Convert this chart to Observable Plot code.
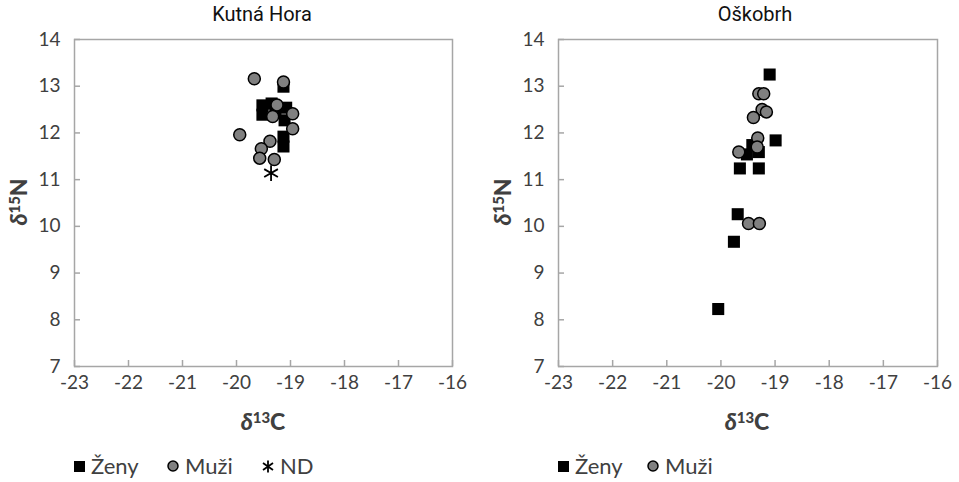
<!DOCTYPE html>
<html>
<head>
<meta charset="utf-8">
<script src="https://cdn.jsdelivr.net/npm/d3@7"></script>
<script src="https://cdn.jsdelivr.net/npm/@observablehq/plot@0.6"></script>
<style>
  html, body { margin: 0; padding: 0; background: #fff; }
  #root { position: relative; width: 959px; height: 482px; overflow: hidden; font-family: Lato, "Open Sans", sans-serif; }
  .panel { position: absolute; top: 0; width: 479px; height: 482px; }
  .title { position: absolute; top: 0; height: 26px; line-height: 28px; font-family: Roboto, sans-serif; font-size: 20px; color: #111; white-space: nowrap; transform: translateX(-50%); }
  .plotbox { position: absolute; top: 26px; left: 0; }
  .ylab, .xlab { position: absolute; font-family: Lato, sans-serif; font-weight: 900; color: #404040; white-space: nowrap; line-height: 1; }
  .ylab { font-size: 23px; transform: translate(-50%, -50%) rotate(-90deg); }
  .xlab { font-size: 23px; transform: translate(-50%, -50%); }
  .ylab i, .xlab i { font-style: italic; }
  .ylab sup, .xlab sup { font-size: 0.65em; vertical-align: 0.45em; line-height: 0; }
  .leg { position: absolute; top: 466px; transform: translateY(-50%); font-family: Lato, sans-serif; font-size: 22px; color: #404040; white-space: nowrap; line-height: 1; display: flex; align-items: center; }
  .leg svg { display: block; }
</style>
</head>
<body>
<div id="root"></div>
<script>
// ---- data ----
const xTicks = [-23, -22, -21, -20, -19, -18, -17, -16];
const yTicks = [7, 8, 9, 10, 11, 12, 13, 14];

const panelTitles = ["Kutná Hora", "Oškobrh"];
const seriesNames = ["Ženy", "Muži", "ND"];

// Kutná Hora
const khZenyX = [-19.52, -19.52, -19.35, -19.28, -19.08, -19.11, -19.13, -19.13, -19.13];
const khZenyY = [12.59, 12.39, 12.63, 12.48, 12.54, 12.27, 12.99, 11.92, 11.71];
const khMuziX = [-19.67, -19.13, -19.25, -19.33, -18.96, -18.96, -19.94, -19.38, -19.54, -19.57, -19.30];
const khMuziY = [13.16, 13.09, 12.60, 12.35, 12.41, 12.09, 11.96, 11.82, 11.66, 11.46, 11.43];
const khNdX = [-19.36];
const khNdY = [11.14];

// Oškobrh
const okZenyX = [-19.10, -18.99, -19.65, -19.30, -19.69, -19.76, -20.05, -19.52, -19.42, -19.30];
const okZenyY = [13.25, 11.84, 11.24, 11.24, 10.26, 9.67, 8.23, 11.54, 11.74, 11.59];
const okMuziX = [-19.30, -19.21, -19.24, -19.16, -19.40, -19.32, -19.33, -19.67, -19.49, -19.29];
const okMuziY = [12.84, 12.84, 12.50, 12.45, 12.33, 11.89, 11.70, 11.59, 10.06, 10.06];

const zip = (xs, ys) => xs.map((x, i) => ({x, y: ys[i]}));

// ---- layout ----
const W = 479, H = 414, MT = 13, MB = 74;
const AXIS = "#a6a6a6";

function makePlot(ml, mr, zeny, muzi, nd) {
  const innerH = H - MT - MB;
  const innerW = W - ml - mr;
  const marks = [
    Plot.frame({stroke: AXIS, strokeWidth: 1.5}),
    Plot.tickX(xTicks, {x: d => d, insetTop: innerH - 6, stroke: AXIS, strokeWidth: 1.5}),
    Plot.tickY(yTicks, {y: d => d, insetRight: innerW - 6, stroke: AXIS, strokeWidth: 1.5}),
    Plot.axisX({ticks: xTicks, tickSize: 0, tickPadding: 9, tickFormat: d => String(d), label: null}),
    Plot.axisY({ticks: yTicks, tickSize: 0, tickPadding: 14, tickFormat: d => String(d), label: null}),
    Plot.dot(zeny, {x: "x", y: "y", symbol: "square", r: 6.8, fill: "#000", stroke: "none"}),
    Plot.dot(muzi, {x: "x", y: "y", symbol: "circle", r: 6, fill: "#808080", stroke: "#000", strokeWidth: 1.5})
  ];
  if (nd) marks.push(Plot.dot(nd, {x: "x", y: "y", symbol: "asterisk", r: 7.5, stroke: "#000", strokeWidth: 1.8}));
  return Plot.plot({
    width: W, height: H,
    marginTop: MT, marginBottom: MB, marginLeft: ml, marginRight: mr,
    style: {fontFamily: "Lato, sans-serif", fontSize: "19px", color: "#404040", background: "transparent", overflow: "visible"},
    x: {domain: [-23, -16]},
    y: {domain: [7, 14]},
    marks
  });
}

function legendItem(panel, left, kind, label) {
  const d = document.createElement("div");
  d.className = "leg";
  d.style.left = left + "px";
  let sym = "";
  if (kind === "square") sym = '<svg width="11" height="11"><rect x="0" y="0" width="11" height="11" fill="#000"/></svg>';
  if (kind === "circle") sym = '<svg width="12" height="12"><circle cx="6" cy="6" r="5" fill="#808080" stroke="#000" stroke-width="1.5"/></svg>';
  if (kind === "asterisk") sym = '<svg width="12" height="13"><g stroke="#000" stroke-width="1.8"><line x1="6" y1="0.5" x2="6" y2="12.5"/><line x1="1" y1="3" x2="11" y2="10"/><line x1="1" y1="10" x2="11" y2="3"/></g></svg>';
  d.innerHTML = sym + '<span style="margin-left:6px">' + label + '</span>';
  panel.appendChild(d);
}

const root = document.getElementById("root");

function buildPanel(offset, ml, mr, title, titleCx, xlabCx, ylabCx, zeny, muzi, nd, legendDefs) {
  const p = document.createElement("div");
  p.className = "panel";
  p.style.left = offset + "px";
  root.appendChild(p);

  const t = document.createElement("div");
  t.className = "title";
  t.style.left = (titleCx - offset) + "px";
  t.textContent = title;
  p.appendChild(t);

  const box = document.createElement("div");
  box.className = "plotbox";
  box.appendChild(makePlot(ml, mr, zeny, muzi, nd));
  p.appendChild(box);

  const yl = document.createElement("div");
  yl.className = "ylab";
  yl.style.left = (ylabCx - offset) + "px";
  yl.style.top = "202px";
  yl.innerHTML = "<i>δ</i><sup>15</sup>N";
  p.appendChild(yl);

  const xl = document.createElement("div");
  xl.className = "xlab";
  xl.style.left = (xlabCx - offset) + "px";
  xl.style.top = "421px";
  xl.innerHTML = "<i>δ</i><sup>13</sup>C";
  p.appendChild(xl);

  for (const [left, kind, label] of legendDefs) legendItem(p, left - offset, kind, label);
}

buildPanel(0, 74, 27, panelTitles[0], 262, 263, 18,
  zip(khZenyX, khZenyY), zip(khMuziX, khMuziY), zip(khNdX, khNdY),
  [[74, "square", seriesNames[0]], [167, "circle", seriesNames[1]], [262, "asterisk", seriesNames[2]]]);

buildPanel(480, 78, 22, panelTitles[1], 755, 747, 502,
  zip(okZenyX, okZenyY), zip(okMuziX, okMuziY), null,
  [[558, "square", seriesNames[0]], [647, "circle", seriesNames[1]]]);
</script>
</body>
</html>
